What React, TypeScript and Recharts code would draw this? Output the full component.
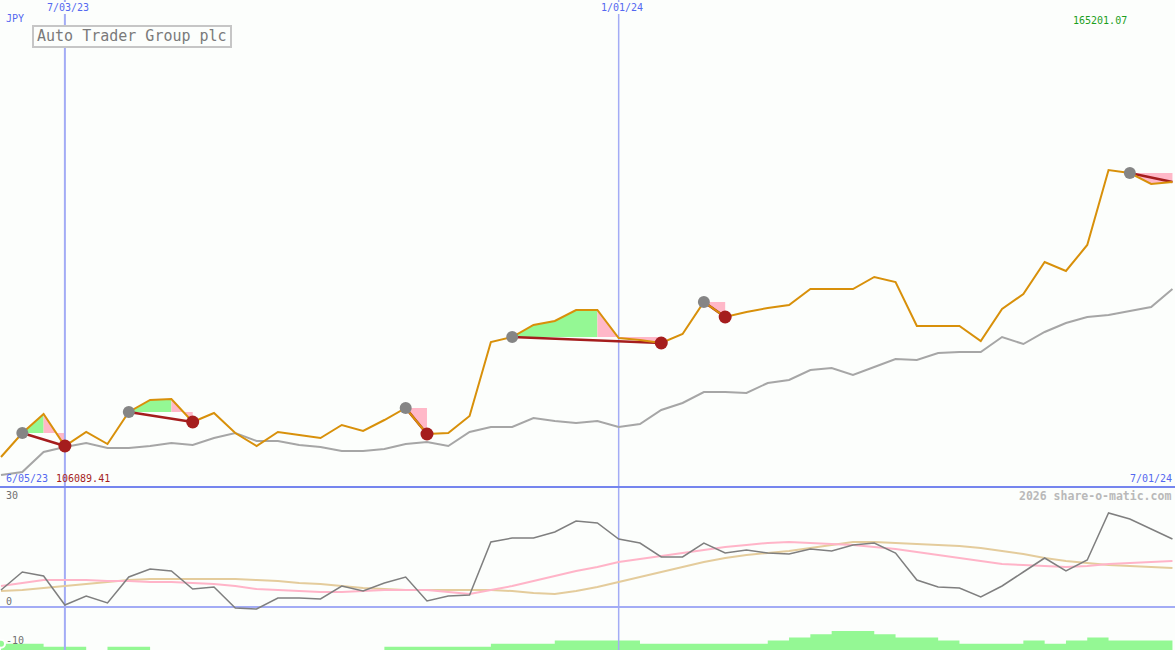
import React from 'react';
import { ComposedChart, Line, Area, XAxis, YAxis, ReferenceLine } from 'recharts';

// weekly closes, 12 Jun 2023 .. 1 Jul 2024 (JPY)
const price = [
  106089, 111033, 114947, 108355, 111239, 108767, 115359, 117831, 118037, 113299,
  115153, 111033, 108355, 111239, 110621, 110003, 112681, 111445, 113711, 116183,
  110827, 111033, 114535, 129779, 130809, 133281, 134105, 136371, 136371, 130603,
  130191, 129573, 131427, 138019, 134929, 135959, 136783, 137401, 140697, 140697,
  140697, 143169, 142139, 133075, 133075, 133075, 129985, 136577, 139667, 146259,
  144405, 149761, 165201.07, 164593, 162327, 162739,
];

// market comparison line (grey)
const market = [
  102381, 102999, 107119, 108149, 108973, 107943, 107943, 108355, 108973, 108561,
  110003, 111033, 109385, 109385, 108561, 108149, 107325, 107325, 107737, 108767,
  109179, 108355, 111239, 112269, 112269, 114123, 113505, 113093, 113505, 112269,
  112887, 115771, 117213, 119479, 119479, 119273, 121333, 121951, 124011, 124423,
  122981, 124629, 126277, 126071, 127513, 127719, 127719, 130809, 129367, 131839,
  133693, 134929, 135341, 136165, 136989, 140697,
];

// lower panel
const momentum = [
  4.25, 8.75, 7.75, 0.5, 2.75, 1, 7.5, 9.5, 9, 4.5,
  5, -0.25, -0.5, 2.25, 2.25, 2, 5.25, 4, 6, 7.5,
  1.5, 2.75, 3, 16.25, 17.25, 17.25, 18.75, 21.5, 21, 17,
  16, 12.5, 12.5, 16, 13.5, 14.25, 13.5, 13.25, 14.5, 14,
  15.5, 16, 13.5, 6.75, 5, 4.75, 2.5, 5.25, 8.75, 12.25,
  9, 11.75, 23.5, 22, 19.5, 17,
];

const fastAvg = [
  5.25, 6, 6.75, 6.75, 6.75, 6.5, 6.5, 6.25, 6.25, 6,
  5.75, 5.25, 4.5, 4.25, 4, 3.75, 3.75, 4, 4.25, 4.25,
  4.25, 3.75, 3.25, 4.25, 5.25, 6.5, 7.75, 9, 10, 11.25,
  12, 12.75, 13.5, 14.25, 15, 15.5, 16, 16.25, 16, 15.75,
  15.5, 15, 14.5, 13.75, 13, 12.25, 11.5, 10.75, 10.5, 10.25,
  10, 10.25, 10.75, 11, 11.25, 11.5,
];

const slowAvg = [
  4, 4.25, 4.75, 5.25, 5.75, 6.25, 6.75, 7, 7, 7,
  7, 7, 6.75, 6.5, 6, 5.75, 5.25, 4.75, 4.5, 4.25,
  4.25, 4.25, 4.25, 4.25, 4, 3.5, 3.25, 4, 5, 6.25,
  7.5, 8.75, 10, 11.25, 12.25, 13, 13.5, 14, 14.75, 15.5,
  16.25, 16.25, 16, 15.75, 15.5, 15.25, 14.75, 14, 13.25, 12.25,
  11.5, 11, 10.5, 10.25, 10, 9.75,
];

// green strip along the bottom
const strength = [
  2, 2, 1, 1, 0, 1, 1, 0, 0, 0,
  0, 0, 0, 0, 0, 0, 0, 0, 1, 1,
  1, 1, 1, 2, 2, 2, 3, 3, 3, 3,
  2, 2, 2, 2, 2, 2, 3, 4, 5, 6,
  6, 5, 4, 4, 3, 2, 2, 2, 3, 2,
  3, 4, 3, 3, 3, 3,
];

// trades: index of buy, of best close, of sell
const trades = [
  { entry: 1, peak: 2, exit: 3, open: false },
  { entry: 6, peak: 8, exit: 9, open: false },
  { entry: 19, peak: 19, exit: 20, open: false },
  { entry: 24, peak: 28, exit: 31, open: false },
  { entry: 33, peak: 33, exit: 34, open: false },
  { entry: 53, peak: 53, exit: 55, open: true },
];

const BG = '#fcfefc';
const MONO = '"DejaVu Sans Mono", "Liberation Mono", monospace';

const rows: Array<Record<string, any>> = price.map((p, i) => ({
  i,
  price: p,
  market: market[i],
  momentum: momentum[i],
  fast: fastAvg[i],
  slow: slowAvg[i],
  strength: strength[i],
  gain: null,
  loss: null,
  buy: null,
  sell: null,
}));

trades.forEach((t, k) => {
  const base = price[t.entry];
  for (let i = t.entry; i <= t.peak && t.peak > t.entry; i++) rows[i].gain = [base, price[i]];
  for (let i = t.peak; i <= t.exit; i++) rows[i].loss = [base, price[i]];
  rows[t.entry]['seg' + k] = base;
  rows[t.exit]['seg' + k] = price[t.exit];
  rows[t.entry].buy = base;
  if (!t.open) rows[t.exit].sell = price[t.exit];
});

const Txt = ({ children, style }: { children: React.ReactNode; style: React.CSSProperties }) => (
  <div style={{ position: 'absolute', fontFamily: MONO, fontSize: 10, lineHeight: '12px', whiteSpace: 'pre', ...style }}>
    {children}
  </div>
);

export default function App() {
  return (
    <div style={{ position: 'relative', width: 1175, height: 650, background: BG, overflow: 'hidden' }}>
      <style>{'body{margin:0;background:' + BG + '}'}</style>
      <ComposedChart width={1175} height={650} data={rows} margin={{ top: 0, right: 0, bottom: 0, left: 0 }}>
        <XAxis dataKey="i" type="number" hide domain={[-0.047, 55.12]} allowDataOverflow />
        <YAxis yAxisId="price" hide domain={[66331, 200231]} allowDataOverflow />
        <YAxis yAxisId="osc" hide domain={[-10.75, 151.75]} allowDataOverflow />
        <YAxis yAxisId="str" hide domain={[0, 206.35]} allowDataOverflow />

        <ReferenceLine yAxisId="price" x={3} stroke="#a3acf5" strokeWidth={2} />
        <ReferenceLine yAxisId="price" x={29} stroke="#a3acf5" strokeWidth={1.5} />
        <ReferenceLine yAxisId="osc" y={0} stroke="#a3acf5" strokeWidth={2} />
        <ReferenceLine yAxisId="osc" y={30} stroke="#7585ee" strokeWidth={2} />

        <Area yAxisId="str" dataKey="strength" type="stepAfter" fill="#94f894" fillOpacity={1} stroke="none" isAnimationActive={false} />

        <Area yAxisId="price" dataKey="gain" type="linear" fill="#94f894" fillOpacity={1} stroke="none" isAnimationActive={false} />
        <Area yAxisId="price" dataKey="loss" type="linear" fill="#ffb8c8" fillOpacity={1} stroke="none" isAnimationActive={false} />

        <Line yAxisId="price" dataKey="market" type="linear" stroke="#a6a6a6" strokeWidth={2} dot={false} activeDot={false} isAnimationActive={false} />

        {trades.map((_, k) => (
          <Line key={k} yAxisId="price" dataKey={'seg' + k} type="linear" stroke="#a51d1d" strokeWidth={2.5} connectNulls dot={false} activeDot={false} isAnimationActive={false} />
        ))}

        <Line yAxisId="price" dataKey="buy" stroke="none" dot={{ r: 6, fill: '#858585', stroke: 'none' }} activeDot={false} isAnimationActive={false} />
        <Line yAxisId="price" dataKey="sell" stroke="none" dot={{ r: 6.5, fill: '#a51d1d', stroke: 'none' }} activeDot={false} isAnimationActive={false} />

        <Line yAxisId="price" dataKey="price" type="linear" stroke="#d8900a" strokeWidth={2} dot={false} activeDot={false} isAnimationActive={false} />

        <Line yAxisId="osc" dataKey="slow" type="linear" stroke="#e4cc9c" strokeWidth={2} dot={false} activeDot={false} isAnimationActive={false} />
        <Line yAxisId="osc" dataKey="fast" type="linear" stroke="#ffb4c8" strokeWidth={2} dot={false} activeDot={false} isAnimationActive={false} />
        <Line yAxisId="osc" dataKey="momentum" type="linear" stroke="#7f7f7f" strokeWidth={1.5} dot={false} activeDot={false} isAnimationActive={false} />
      </ComposedChart>

      <Txt style={{ left: 47, top: 2, color: '#5468f0', background: BG }}>7/03/23</Txt>
      <Txt style={{ left: 601, top: 2, color: '#5468f0', background: BG }}>1/01/24</Txt>
      <Txt style={{ left: 6, top: 13, color: '#5468f0' }}>JPY</Txt>
      <div style={{
        position: 'absolute', left: 32, top: 25, width: 193, height: 19,
        border: '2px solid #c6c6c6', background: BG, fontFamily: MONO, fontSize: 15,
        lineHeight: '19px', color: '#7a7a7a', paddingLeft: 3, whiteSpace: 'pre',
      }}>
        Auto Trader Group plc
      </div>
      <Txt style={{ left: 1073, top: 15, color: '#1c9e1c' }}>165201.07</Txt>
      <Txt style={{ left: 6, top: 473, color: '#5468f0' }}>6/05/23</Txt>
      <Txt style={{ left: 56, top: 473, color: '#a51d1d' }}>106089.41</Txt>
      <Txt style={{ left: 1130, top: 473, color: '#5468f0' }}>7/01/24</Txt>
      <Txt style={{ left: 1019, top: 490, color: '#b9b9b9', fontSize: 11.5, fontWeight: 'bold' }}>2026 share-o-matic.com</Txt>
      <Txt style={{ left: 6, top: 490, color: '#707070' }}>30</Txt>
      <Txt style={{ left: 6, top: 596, color: '#707070' }}>0</Txt>
      <Txt style={{ left: 6, top: 635, color: '#707070' }}>-10</Txt>
    </div>
  );
}
